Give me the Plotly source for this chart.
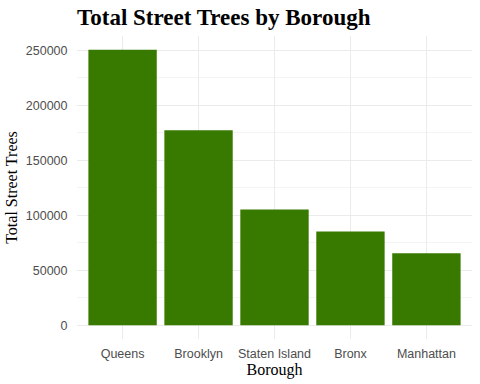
import plotly.graph_objects as go

boroughs = ["Queens", "Brooklyn", "Staten Island", "Bronx", "Manhattan"]
tree_counts = [250551, 177293, 105318, 85203, 65423]
y_ticks = [0, 50000, 100000, 150000, 200000, 250000]

fig = go.Figure(go.Bar(
    x=boroughs, y=tree_counts, width=0.9,
    marker=dict(color="#387a00", line=dict(width=0)),
))

fig.update_layout(
    width=480, height=384,
    margin=dict(l=77, r=8, t=36, b=45, autoexpand=False),
    paper_bgcolor="white", plot_bgcolor="white",
    title=dict(text="<b>Total Street Trees by Borough</b>",
               font=dict(family="Liberation Serif", size=23, color="black"),
               x=77/480, xanchor="left", y=1-17/384, yanchor="middle", automargin=False),
    showlegend=False,
    bargap=0.1,
)
fig.update_xaxes(
    range=[-0.6, 4.6], showgrid=True, gridcolor="#ebebeb", gridwidth=1.2,
    showline=False, zeroline=False, ticks="outside", ticklen=3, tickcolor="rgba(0,0,0,0)",
    tickfont=dict(family="Liberation Sans", size=12.5, color="#4d4d4d"), automargin=False,
    title=dict(text="Borough", font=dict(family="Liberation Serif", size=16, color="black"), standoff=2),
)
fig.update_yaxes(
    range=[-12528, 263079], tickvals=y_ticks, ticktext=[str(v) for v in y_ticks],
    showgrid=True, gridcolor="#ebebeb", gridwidth=1.2, zeroline=False, showline=False,
    minor=dict(showgrid=True, gridcolor="#f4f4f4", gridwidth=0.8, tickvals=[25000, 75000, 125000, 175000, 225000]),
    ticks="outside", ticklen=6, tickcolor="rgba(0,0,0,0)", automargin=False,
    tickfont=dict(family="Liberation Sans", size=12.5, color="#4d4d4d"),
    title=dict(text="Total Street Trees", font=dict(family="Liberation Serif", size=16, color="black"), standoff=4),
)

fig.write_html("out.html", config={"displayModeBar": False},
               post_script="document.body.style.margin='0';")
